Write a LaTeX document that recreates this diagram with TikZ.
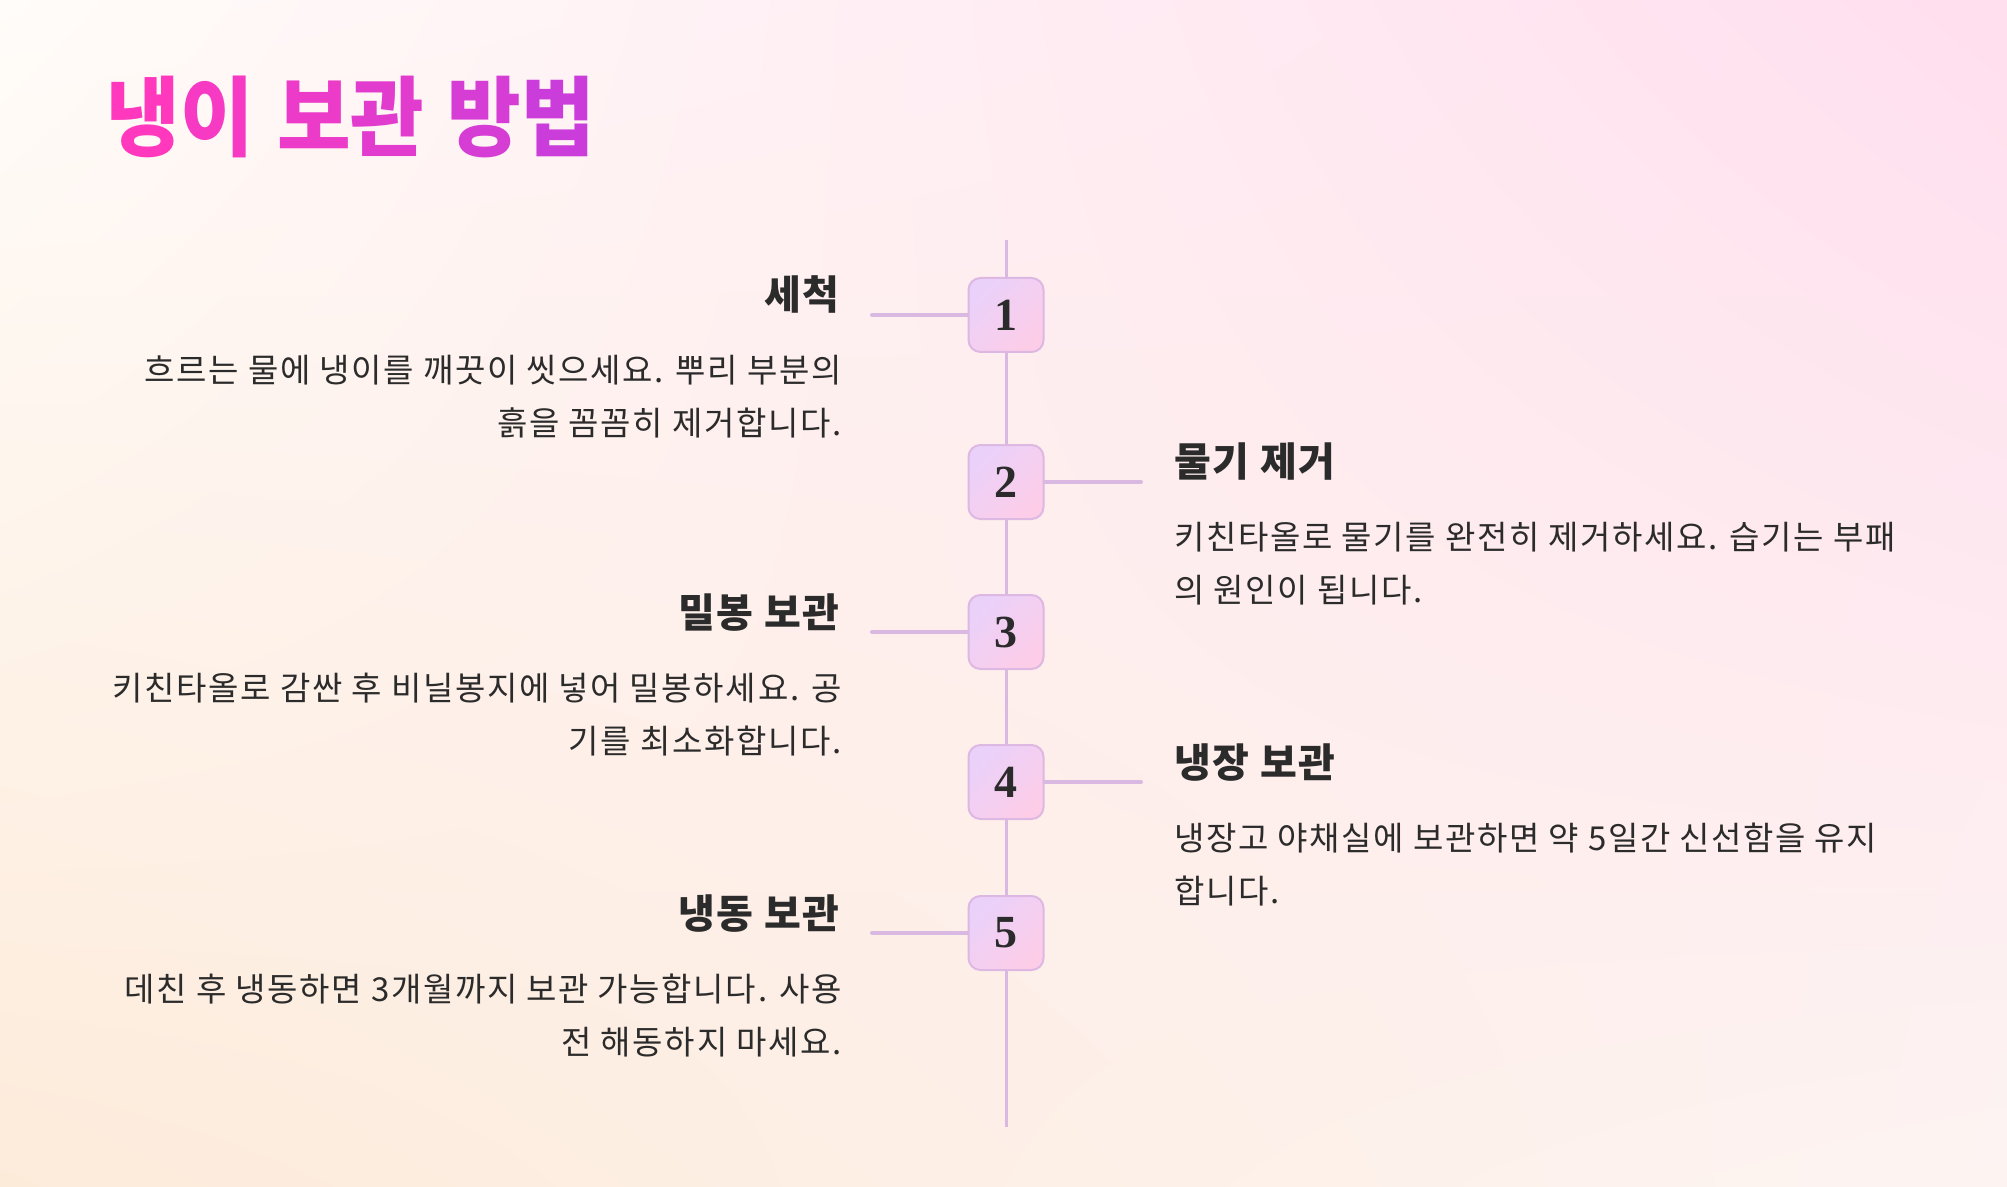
\documentclass[tikz,border=0pt]{standalone}
\usepackage{fontspec}
\usetikzlibrary{shadings}
\setmainfont{Noto Sans CJK KR}
\newfontfamily\titlefont[FakeStretch=0.92]{Noto Sans CJK KR}
\newfontfamily\bodyfont[LetterSpace=5]{Noto Sans CJK KR}
\newfontfamily\headfont[LetterSpace=4]{Noto Sans CJK KR}
\newfontfamily\numfont{Liberation Serif}
\definecolor{bgUL}{HTML}{FFFCF9}
\definecolor{bgUR}{HTML}{FFDEEE}
\definecolor{bgLL}{HTML}{FDEBDA}
\definecolor{bgLR}{HTML}{FDF4F2}
\definecolor{lineC}{HTML}{D9B9E2}
\definecolor{boxA}{HTML}{EAD1FA}
\definecolor{boxB}{HTML}{FDCDE8}
\definecolor{boxD}{HTML}{DDB8E2}
\definecolor{txt}{HTML}{2B2B2B}
\definecolor{t1}{HTML}{FF38BE}
\definecolor{t2}{HTML}{F73AC3}
\definecolor{t3}{HTML}{EC3BC8}
\definecolor{t4}{HTML}{E23CCE}
\definecolor{t5}{HTML}{D63DD4}
\definecolor{t6}{HTML}{CB3DDA}
\begin{document}
\begin{tikzpicture}[x=0.5pt,y=-0.5pt,
  numbox/.style={rectangle, rounded corners=6pt, minimum width=37.5pt, minimum height=37pt,
    inner sep=0pt, draw=boxD, line width=1pt, left color=boxA, right color=boxB, shading angle=45,
    font=\numfont\bfseries\fontsize{23}{26}\selectfont, text=txt},
  vline/.style={draw=lineC, line width=1.5pt},
  hline/.style={draw=lineC, line width=2pt, line cap=round},
  head/.style={inner sep=0pt, font=\headfont\bfseries\fontsize{20}{24}\selectfont, text=txt},
  body/.style={inner sep=0pt, font=\bodyfont\fontsize{16.5}{20}\selectfont, text=txt}]
\useasboundingbox (0,0) rectangle (2007,1187);
\shade[upper left=bgUL, upper right=bgUR, lower left=bgLL, lower right=bgLR] (0,0) rectangle (2007,1187);

% title
\node[inner sep=0pt, anchor=base west, font=\titlefont\bfseries\fontsize{43.5}{50}\selectfont] (title) at (106,150)
  {{\color{t1}냉}{\color{t2}이}\hspace{2.5pt} {\color{t3}보}{\color{t4}관}\hspace{2.5pt} {\color{t5}방}{\color{t6}법}};

% boxes
\node[numbox] (n1) at (1006,315) {1};
\node[numbox] (n2) at (1006,482) {2};
\node[numbox] (n3) at (1006,632) {3};
\node[numbox] (n4) at (1006,782) {4};
\node[numbox] (n5) at (1006,933) {5};

\coordinate (top) at (1006,240);
\coordinate (bot) at (1006,1127);
\draw[vline] (top) -- (n1) -- (n2) -- (n3) -- (n4) -- (n5) -- (bot);

\coordinate (c1) at (872,315);
\coordinate (c2) at (1141,482);
\coordinate (c3) at (872,632);
\coordinate (c4) at (1141,782);
\coordinate (c5) at (872,933);
\draw[hline] (c1) -- (n1);
\draw[hline] (c2) -- (n2);
\draw[hline] (c3) -- (n3);
\draw[hline] (c4) -- (n4);
\draw[hline] (c5) -- (n5);

% item 1
\node[head, anchor=base east] (h1) at (840,310) {세척};
\node[body, anchor=base east] (b1a) at (842,383) {흐르는 물에 냉이를 깨끗이 씻으세요. 뿌리 부분의};
\node[body, anchor=base east] (b1b) at (842,436) {흙을 꼼꼼히 제거합니다.};
% item 2
\node[head, anchor=base west] (h2) at (1174,476) {물기 제거};
\node[body, anchor=base west] (b2a) at (1174,549) {키친타올로 물기를 완전히 제거하세요. 습기는 부패};
\node[body, anchor=base west] (b2b) at (1174,602) {의 원인이 됩니다.};
% item 3
\node[head, anchor=base east] (h3) at (840,627) {밀봉 보관};
\node[body, anchor=base east] (b3a) at (842,700) {키친타올로 감싼 후 비닐봉지에 넣어 밀봉하세요. 공};
\node[body, anchor=base east] (b3b) at (842,753) {기를 최소화합니다.};
% item 4
\node[head, anchor=base west] (h4) at (1174,777) {냉장 보관};
\node[body, anchor=base west] (b4a) at (1174,850) {냉장고 야채실에 보관하면 약 5일간 신선함을 유지};
\node[body, anchor=base west] (b4b) at (1174,903) {합니다.};
% item 5
\node[head, anchor=base east] (h5) at (840,928) {냉동 보관};
\node[body, anchor=base east] (b5a) at (842,1001) {데친 후 냉동하면 3개월까지 보관 가능합니다. 사용};
\node[body, anchor=base east] (b5b) at (842,1054) {전 해동하지 마세요.};
\end{tikzpicture}
\end{document}
